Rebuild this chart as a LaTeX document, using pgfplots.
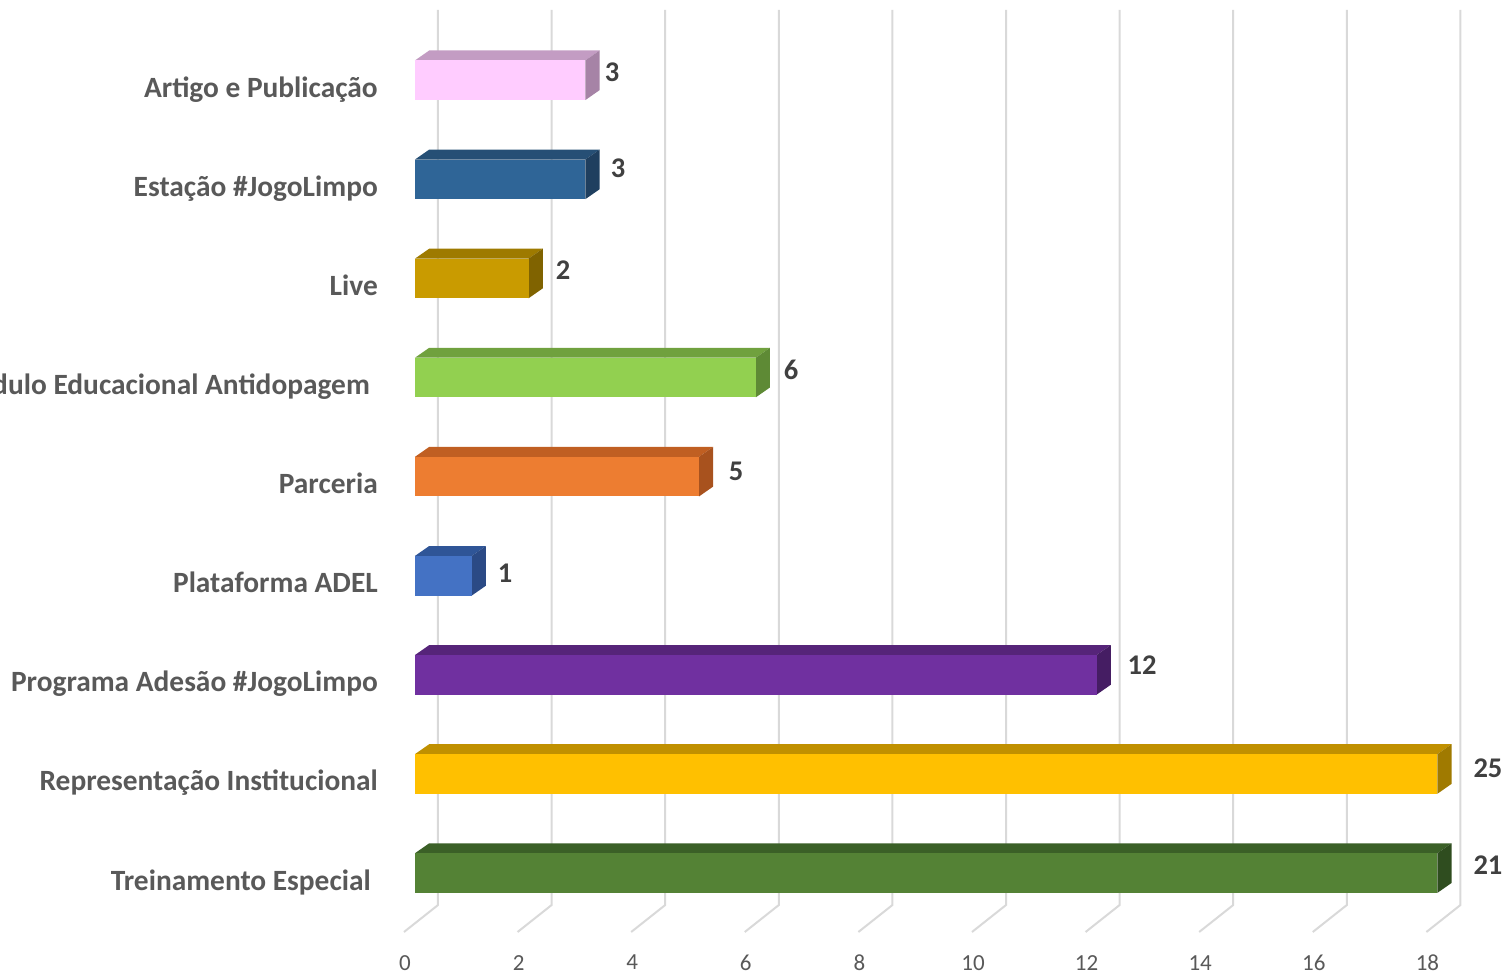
\documentclass[border=0pt]{standalone}
\usepackage{pgfplots}
\pgfplotsset{compat=1.18}
\usepackage{pgfplotstable}
\usepackage{fontspec}
\setmainfont{Carlito}

\definecolor{gridc}{HTML}{D9D9D9}
\definecolor{labc}{HTML}{595959}
\definecolor{valc}{HTML}{404040}
% front / top / side colours
\definecolor{pinkF}{HTML}{FFCCFF}\definecolor{pinkT}{HTML}{C39CC3}\definecolor{pinkS}{HTML}{A683A6}
\definecolor{blueF}{HTML}{2F6597}\definecolor{blueT}{HTML}{264F75}\definecolor{blueS}{HTML}{1F3F5F}
\definecolor{goldF}{HTML}{C99B00}\definecolor{goldT}{HTML}{9E7A00}\definecolor{goldS}{HTML}{806300}
\definecolor{limeF}{HTML}{92D050}\definecolor{limeT}{HTML}{70A13E}\definecolor{limeS}{HTML}{5E8A35}
\definecolor{oranF}{HTML}{ED7D31}\definecolor{oranT}{HTML}{C05F22}\definecolor{oranS}{HTML}{A8521E}
\definecolor{plblF}{HTML}{4472C4}\definecolor{plblT}{HTML}{2F5597}\definecolor{plblS}{HTML}{2B4A85}
\definecolor{purpF}{HTML}{7030A0}\definecolor{purpT}{HTML}{562479}\definecolor{purpS}{HTML}{451D63}
\definecolor{yellF}{HTML}{FFC000}\definecolor{yellT}{HTML}{C09000}\definecolor{yellS}{HTML}{A07A00}
\definecolor{grnF}{HTML}{548235}\definecolor{grnT}{HTML}{3B6027}\definecolor{grnS}{HTML}{2F4D1F}

% value labels: idx, plotted value (axis ends at 18), label, label position
\pgfplotstableread{
idx val lab lx ly
0 18 21 18.89 0.08
1 18 25 18.89 1.06
2 12 12 12.80 2.10
3 1 1 1.585 3.03
4 5 5 5.651 4.05
5 6 6 6.620 5.08
6 2 2 2.606 6.08
7 3 3 3.574 7.11
8 3 3 3.468 8.08
}\datatable

% 3D bar: #1 idx, #2 value, #3 front, #4 top, #5 side
\newcommand\tdbar[5]{%
 \pgfmathsetmacro\ylo{#1-0.2}%
 \pgfmathsetmacro\yhi{#1+0.2}%
 \pgfmathsetmacro\ytb{#1+0.3}%
 \pgfmathsetmacro\ysb{#1-0.1}%
 \pgfmathsetmacro\xr{#2+0.25}%
 \edef\tmp{%
 \noexpand\addplot[fill=#4,draw=none] coordinates {(0,\yhi) (#2,\yhi) (\xr,\ytb) (0.25,\ytb)} -- cycle;
 \noexpand\addplot[fill=#5,draw=none] coordinates {(#2,\ylo) (\xr,\ysb) (\xr,\ytb) (#2,\yhi)} -- cycle;
 \noexpand\addplot[fill=#3,draw=none] coordinates {(0,\ylo) (#2,\ylo) (#2,\yhi) (0,\yhi)} -- cycle;
 }\tmp}

% grid line: floor diagonal + back wall vertical
\newcommand\gline[1]{%
 \pgfmathsetmacro\xa{#1-0.194}%
 \pgfmathsetmacro\xb{#1+0.405}%
 \edef\tmp{\noexpand\addplot[gridc,line width=2pt] coordinates {(\xa,-0.595) (\xb,-0.323) (\xb,8.71)};}\tmp}

\begin{document}
\begin{tikzpicture}
\begin{axis}[
  at={(0,0)}, anchor=south west,
  x=56.8pt, y=99.1pt,
  xmin=0, xmax=18, ymin=-0.6, ymax=8.809,
  enlargelimits=false, clip=false,
  axis line style={draw=none},
  major tick length=0pt,
  xtick={0,2,...,18},
  ytick={0,...,8},
  yticklabels={Treinamento Especial\rule{7pt}{0pt},Representação Institucional,Programa Adesão \#JogoLimpo,Plataforma ADEL,Parceria,Módulo Educacional Antidopagem\rule{8pt}{0pt},Live,Estação \#JogoLimpo,Artigo e Publicação},
  /pgf/number format/assume math mode=true,
  xticklabel style={font=\fontsize{23}{27}\selectfont, text=labc, inner sep=0pt, anchor=north, xshift=-10pt, yshift=-22.5pt},
  yticklabel style={font=\fontsize{29.4}{34}\selectfont\bfseries, text=labc, inner sep=0pt, anchor=base east, xshift=-37pt, yshift=-17pt},
]
\gline{0}\gline{2}\gline{4}\gline{6}\gline{8}\gline{10}\gline{12}\gline{14}\gline{16}\gline{18}

\tdbar{0}{18}{grnF}{grnT}{grnS}
\tdbar{1}{18}{yellF}{yellT}{yellS}
\tdbar{2}{12}{purpF}{purpT}{purpS}
\tdbar{3}{1}{plblF}{plblT}{plblS}
\tdbar{4}{5}{oranF}{oranT}{oranS}
\tdbar{5}{6}{limeF}{limeT}{limeS}
\tdbar{6}{2}{goldF}{goldT}{goldS}
\tdbar{7}{3}{blueF}{blueT}{blueS}
\tdbar{8}{3}{pinkF}{pinkT}{pinkS}

\addplot[draw=none, mark=none, nodes near coords, point meta=explicit symbolic,
  nodes near coords align={center},
  nodes near coords style={font=\fontsize{28.5}{32}\selectfont\bfseries, text=valc, inner sep=0pt}]
  table[x=lx, y=ly, meta=lab] {\datatable};
\end{axis}
\pgfresetboundingbox
\path[use as bounding box] (-415pt,-41.5pt) rectangle (1089pt,932.5pt);
\end{tikzpicture}
\end{document}
